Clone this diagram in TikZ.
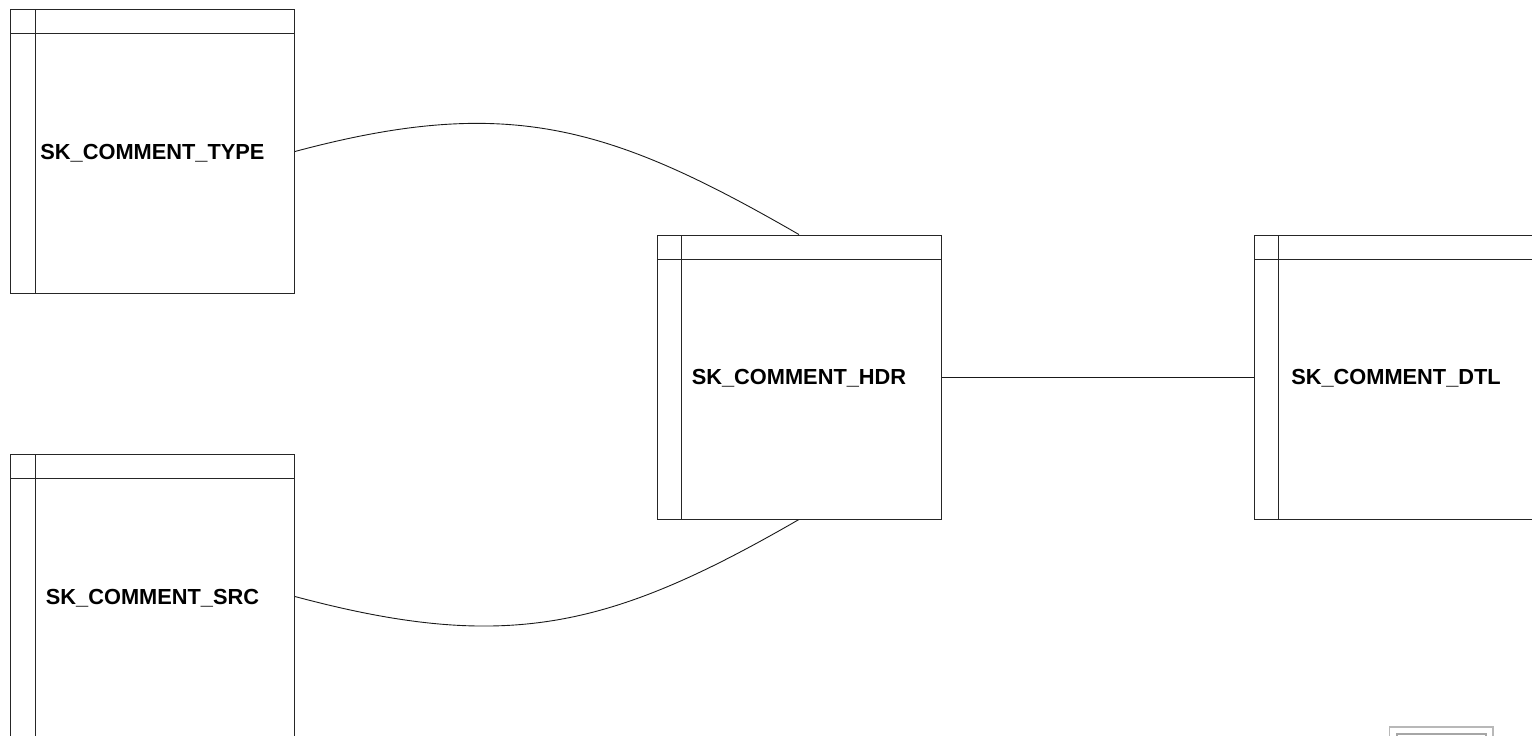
\documentclass[tikz,border=0pt]{standalone}
\usepackage{fontspec}
\setmainfont{Liberation Sans}
\pgfdeclarelayer{bg}
\pgfsetlayers{bg,main}
\tikzset{
  entity/.style={draw=black!85, line width=0.9pt, rectangle, inner sep=0pt,
    minimum width=284pt, minimum height=284pt,
    text height=15pt, text depth=0pt,
    font=\fontsize{21.8}{24}\selectfont\bfseries,
    path picture={
      \draw[black!85, line width=0.9pt]
        ([xshift=24.5pt]path picture bounding box.north west) --
        ([xshift=24.5pt]path picture bounding box.south west);
      \draw[black!85, line width=0.9pt]
        ([yshift=-24pt]path picture bounding box.north west) --
        ([yshift=-24pt]path picture bounding box.north east);
    }},
  link/.style={draw=black!90, line width=0.9pt}
}
\begin{document}
\begin{tikzpicture}[x=1pt, y=-1pt]
        \path[use as bounding box, clip] (0,0) rectangle (1532,736);
        \node (type) [entity] at (152.5, 151.5) {SK\_COMMENT\_TYPE};
        \node (src) [entity] at (152.5, 596.5) {SK\_COMMENT\_SRC};
        \node (hdr) [entity] at (799, 377) {SK\_COMMENT\_HDR};
        \node (dtl) [entity] at (1396, 377) {SK\_COMMENT\_DTL};
        % overview frame in the corner
        \draw[black!28, line width=1.2pt] (1389.5, 727) rectangle (1493, 750);
        \draw[black!35, line width=2pt] (1397, 734) rectangle (1486, 750);
        \begin{pgfonlayer}{bg}
                \draw[link] (type.east) to [out=15, in=150, looseness=1.1] (hdr.north);
                \draw[link] (src.east) to [out=-15, in=-150, looseness=1.1] (hdr.south);
                \draw[link] (hdr) edge (dtl);
        \end{pgfonlayer}
\end{tikzpicture}
\end{document}
